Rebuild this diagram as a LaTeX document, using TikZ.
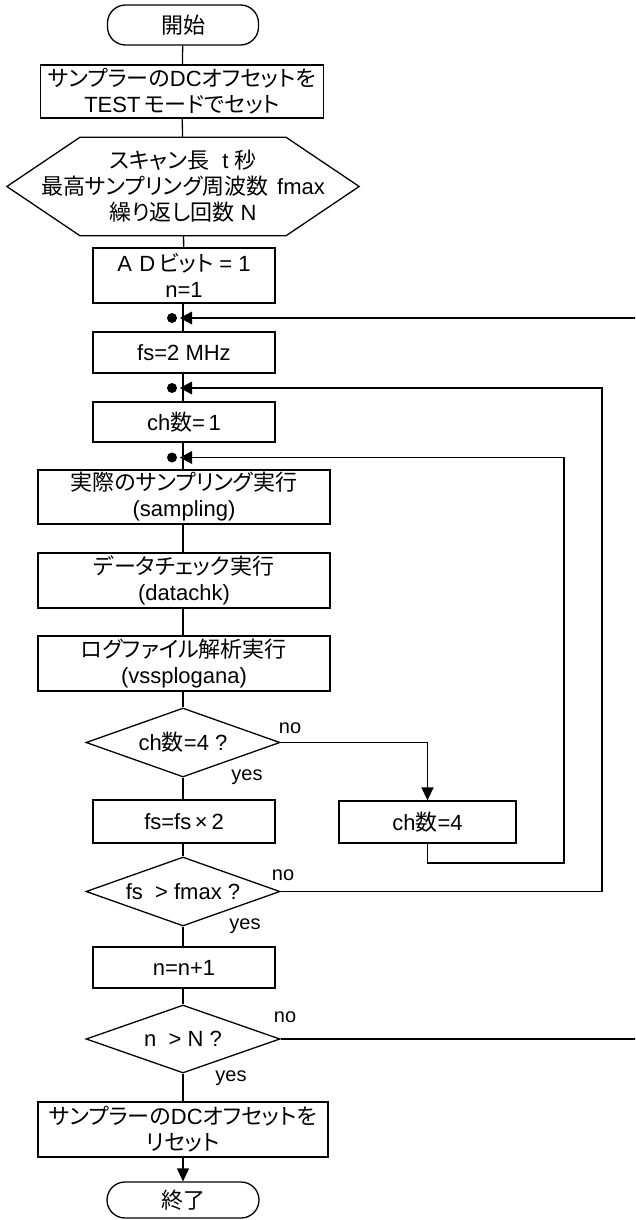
\documentclass[tikz,border=0pt]{standalone}
\usepackage{fontspec}
\setmainfont{Liberation Sans}
\newfontfamily\jpfont[RawFeature=+palt]{Noto Sans CJK JP}
\newcommand\J[1]{{\jpfont #1}}
\usetikzlibrary{shapes.geometric,calc,arrows.meta}
\begin{document}
\begin{tikzpicture}[x=1pt,y=-1pt,line width=1.3pt,
  font=\fontsize{22}{26}\selectfont,
  every node/.style={inner sep=0pt},
  proc/.style={draw,rectangle,align=center,line width=1.3pt},
  term/.style={draw,rectangle,rounded corners=18pt,align=center,line width=1.3pt},
  dec/.style={draw,diamond,aspect=2.8,minimum width=194pt,minimum height=69pt,line width=1.3pt},
  lbl/.style={font=\fontsize{20}{22}\selectfont},
  loopline/.style={line width=1.6pt},
  btip/.style={-{Triangle[length=13pt,width=12pt]}}]
\useasboundingbox (0,0) rectangle (635,1220);
\clip (0,0) rectangle (635,1220);
\fill[white] (0,0) rectangle (635,1220);

% nodes
\node[term,minimum width=151pt,minimum height=40pt] (start) at (183,25) {\J{開始}};
\node[proc,minimum width=283pt,minimum height=53pt] (b1) at (182,91.5)
  {\J{サンプラーの}DC\J{オフセットを}\\TEST\,\J{モードでセット}};
\node[minimum width=351pt,minimum height=97pt,align=center] (hex) at (183,186.5)
  {\J{スキャン長}\hspace{0.6em}t \J{秒}\\\J{最高サンプリング周波数}\hspace{0.4em}fmax\\\J{繰り返し回数} N};
\draw (hex.west) -- ([xshift=73pt]hex.north west) -- ([xshift=-73pt]hex.north east)
  -- (hex.east) -- ([xshift=-73pt]hex.south east) -- ([xshift=73pt]hex.south west) -- cycle;
\node[proc,minimum width=182pt,minimum height=55pt] (ad) at (184,275.5)
  {A\,\,D\,\J{ビット} = 1\\n=1};
\node[proc,minimum width=182pt,minimum height=41pt] (fs) at (184,352.5) {fs=2 MHz};
\node[proc,minimum width=182pt,minimum height=40pt] (ch) at (184,422) {ch\J{数}=\,1};
\node[proc,minimum width=292pt,minimum height=54pt] (samp) at (184,497)
  {\J{実際のサンプリング実行}\\(sampling)};
\node[proc,minimum width=292pt,minimum height=55pt] (dchk) at (184,580.5)
  {\J{データチェック実行}\\(datachk)};
\node[proc,minimum width=292pt,minimum height=55pt] (logb) at (184,663.5)
  {\J{ログファイル解析実行}\\(vssplogana)};
\node[dec] (d1) at (183,742.5) {ch\J{数}=4 ?};
\node[proc,minimum width=182pt,minimum height=43pt] (fs2) at (184,821.5) {fs=fs\,×\,2};
\node[proc,minimum width=177pt,minimum height=42pt] (ch4) at (427.5,822) {ch\J{数}=4};
\node[dec] (d2) at (183,891.5) {fs\ \ > fmax ?};
\node[proc,minimum width=182pt,minimum height=41pt] (n1) at (184,967.5) {n=n+1};
\node[dec,minimum height=68pt] (d3) at (183,1039) {n\ \ > N ?};
\node[proc,minimum width=290pt,minimum height=55pt] (fin) at (183,1129.5)
  {\J{サンプラーの}DC\J{オフセットを}\\\J{リセット}};
\node[term,minimum width=152pt,minimum height=36pt] (stop) at (183,1200) {\J{終了}};

% labels
\node[lbl] (no1) at (290,728) {no};
\node[lbl] (yes1) at (247,777) {yes};
\node[lbl] (no2) at (283,875) {no};
\node[lbl] (yes2) at (245,926) {yes};
\node[lbl] (no3) at (285,1017) {no};
\node[lbl] (yes3) at (231,1078) {yes};

% junction coordinates
\coordinate (j1) at (183,318);
\coordinate (j2) at (183,388);
\coordinate (j3) at (183,457.5);
\coordinate (r1) at (650,0);
\coordinate (r2) at (602,0);
\coordinate (r3) at (564,863);

% main flow
\draw (start) -- (b1);
\draw (b1) -- (hex);
\draw (hex) -- (ad);
\draw (ad.south -| j1) -- (fs.north -| j1);
\draw (fs.south -| j2) -- (ch.north -| j2);
\draw (ch.south -| j3) -- (samp.north -| j3);
\draw (samp.south -| j3) -- (dchk.north -| j3);
\draw (dchk.south -| j3) -- (logb.north -| j3);
\draw (logb.south -| d1.north) -- (d1.north);
\draw (d1.south) -- (fs2.north -| d1.south);
\draw (fs2.south -| d2.north) -- (d2.north);
\draw (d2.south) -- (n1.north -| d2.south);
\draw (n1.south -| d3.north) -- (d3.north);
\draw (d3.south) -- (fin.north -| d3.south);
\draw[btip] (fin.south -| stop.north) -- (stop.north);

% branches and loops
\draw[btip,loopline] (d1.east) -- (d1.east -| ch4.north) -- (ch4.north);
\draw[loopline] (ch4.south) -- (ch4.south |- r3) -- (r3) -- (r3 |- j3) -- (j3);
\draw[loopline] (d2.east) -- (d2.east -| r2) -- (r2 |- j2) -- (j2);
\draw[loopline] (d3.east) -- (d3.east -| r1) -- (r1 |- j1) -- (j1);

% junction dots and arrowheads
\foreach \j in {j1,j2,j3} {
  \fill ($(\j)+(-11,0)$) circle (5pt);
  \fill ($(\j)+(-3,0)$) -- ++(12,-6.5) -- ++(0,13) -- cycle;
}
\end{tikzpicture}
\end{document}
